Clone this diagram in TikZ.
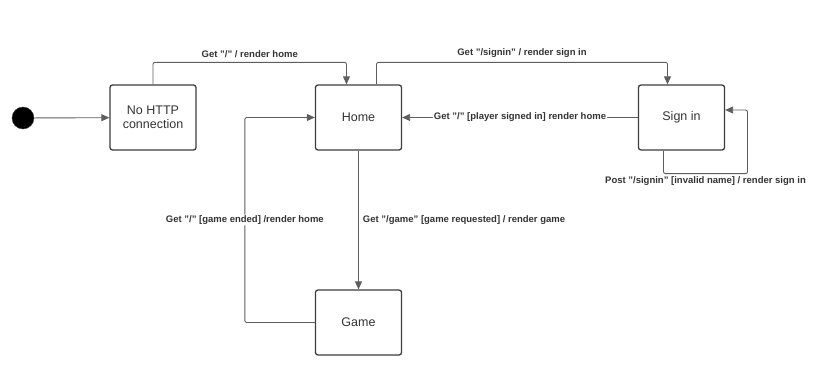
\documentclass[tikz,border=0pt]{standalone}
\usepackage{fontspec}
\setmainfont{Liberation Sans}
\usetikzlibrary{arrows.meta,positioning}

\definecolor{linegray}{HTML}{5E5E5E}
\definecolor{boxgray}{HTML}{3C3C3C}
\definecolor{textgray}{HTML}{333333}

\begin{document}
\begin{tikzpicture}
  [
    x=1pt, y=-1pt,
    state/.style={draw=boxgray, line width=1.3pt, rounded corners=2.5pt, minimum width=86pt,
      minimum height=65pt, align=center, inner sep=2pt, text=textgray,
      font=\fontsize{12.5}{14.5}\selectfont},
    init/.style={circle, fill=black, draw=boxgray, minimum size=22pt, inner sep=0pt},
    trans/.style={draw=linegray, line width=0.9pt, rounded corners=2pt, -{Triangle[length=8pt,width=7pt]}},
    event/.style={font=\fontsize{9.5}{11}\selectfont\bfseries, text=textgray, inner sep=1pt},
  ]
  \useasboundingbox (0,0) rectangle (835,388);

  % states
  \node (start) [init] at (23,118) {};
  \node (nohttp) [state] at (153,117.5) {No HTTP\\connection};
  \node (home) [state] at (358.5,117.5) {Home};
  \node (signin) [state] at (681.5,117.5) {Sign in};
  \node (game) [state] at (358.5,322.5) {Game};

  % transitions
  \draw [trans] (start) -- (nohttp);
  \draw [trans] (nohttp.north) -- ++(0,-22) -| ([xshift=-12pt]home.north)
    node [event, pos=0.25, above=3pt] {Get "/" / render home};
  \draw [trans] ([xshift=18pt]home.north) -- ++(0,-22) -| ([xshift=-14pt]signin.north)
    node [event, pos=0.25, above=3pt] {Get "/signin" / render sign in};
  \draw [trans] (signin.west) -- (home.east)
    node [event, midway, fill=white] {Get "/" [player signed in] render home};
  % self loop under sign in
  \draw [trans] ([xshift=-18pt]signin.south) |-
    node [event, pos=0.75, below=2pt] {Post "/signin" [invalid name] / render sign in}
    ++(84,23) |- ([yshift=7.5pt]signin.east);
  \draw [trans] (home) -- (game)
    node [event, midway, right=3pt] {Get "/game" [game requested] / render game};
  \draw [trans] (game.west) -- ++(-70,0) |- (home.west)
    node [event, pos=0.25, fill=white] {Get "/" [game ended] /render home};
\end{tikzpicture}
\end{document}
